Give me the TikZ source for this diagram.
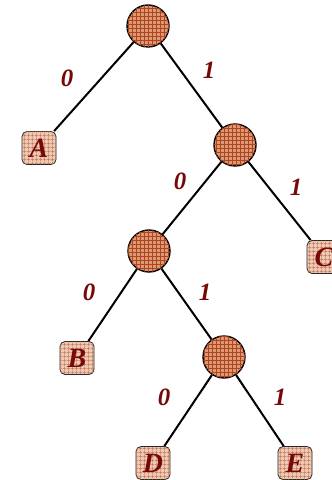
\documentclass[tikz,border=0pt]{standalone}
\usepackage{fontspec}
\setmainfont{Liberation Serif}
\usepackage{tikz}
\usetikzlibrary{patterns.meta}
\definecolor{Clay}{HTML}{DC9A74}
\definecolor{ClayGrid}{HTML}{AE4520}
\definecolor{Blush}{HTML}{EDC8B2}
\definecolor{BlushGrid}{HTML}{C47556}
\definecolor{Wine}{HTML}{760808}
\tikzset{
  inner/.style={circle,draw=black,line width=1.4bp,minimum size=42bp,inner sep=0pt,
    fill=Clay,postaction={pattern={Hatch[angle=0,distance=4bp,line width=.6bp]},pattern color=ClayGrid}},
  leaf/.style={rectangle,rounded corners=5bp,draw=black!85,line width=.8bp,minimum width=34bp,minimum height=33bp,inner sep=0pt,
    fill=Blush,postaction={pattern={Hatch[angle=0,distance=3.6bp,line width=.45bp]},pattern color=BlushGrid},
    text=Wine,font=\fontsize{28}{28}\selectfont\bfseries\itshape},
  bit/.style={text=Wine,font=\fontsize{25}{25}\selectfont\bfseries\itshape,inner sep=0pt},
  branch/.style={line width=2bp,black}
}
\begin{document}
\begin{tikzpicture}[x=1bp,y=-1bp]
      \useasboundingbox (0,0) rectangle (331,480);
      \node[inner] (root) at (148,26) {};
      \node[inner] (n1) at (235,145) {};
      \node[inner] (n10) at (149,251) {};
      \node[inner] (n101) at (224,357) {};
      \node[leaf] (a) at (39,148) {A};
      \node[leaf] (c) at (324,257) {C};
      \node[leaf] (b) at (77,358) {B};
      \node[leaf] (d) at (153,463) {D};
      \node[leaf] (e) at (295,463) {E};
      \draw[branch] (root) -- (a);
      \draw[branch] (root) -- (n1);
      \draw[branch] (n1) -- (n10);
      \draw[branch] (n1) -- (c);
      \draw[branch] (n10) -- (b);
      \draw[branch] (n10) -- (n101);
      \draw[branch] (n101) -- (d);
      \draw[branch] (n101) -- (e);
      % edge digits
      \node[bit] (l0a) at (67,78) {0};
      \node[bit] (l1a) at (209,70) {1};
      \node[bit] (l0b) at (180,181) {0};
      \node[bit] (l1b) at (296,187) {1};
      \node[bit] (l0c) at (89,292) {0};
      \node[bit] (l1c) at (205,292) {1};
      \node[bit] (l0d) at (164,397) {0};
      \node[bit] (l1d) at (280,397) {1};
    \end{tikzpicture}
\end{document}
